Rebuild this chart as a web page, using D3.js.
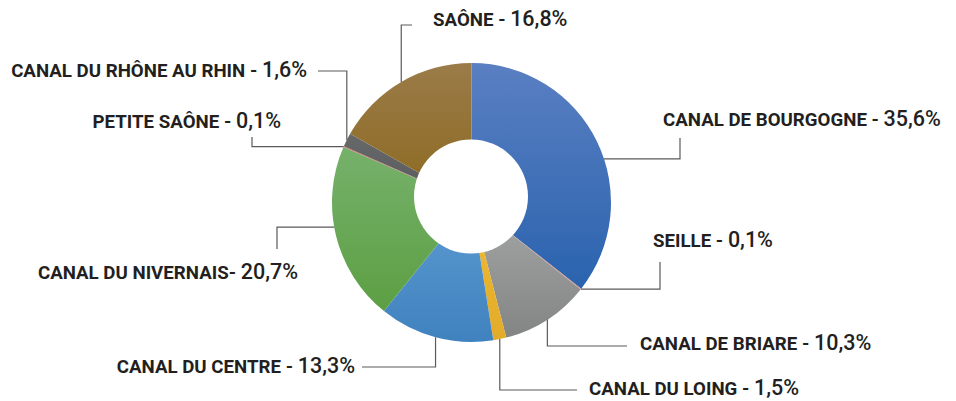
<!DOCTYPE html>
<html>
<head>
<meta charset="utf-8">
<script src="https://cdn.jsdelivr.net/npm/d3@7"></script>
<style>
  body { margin: 0; background: #fff; }
  text { font-family: Roboto, "Noto Sans", sans-serif; fill: #231f20; }
</style>
</head>
<body>
<div id="chart"></div>
<script>
// share of traffic per waterway
const names = ["CANAL DE BOURGOGNE", "SEILLE", "CANAL DE BRIARE", "CANAL DU LOING",
               "CANAL DU CENTRE", "CANAL DU NIVERNAIS", "PETITE SAÔNE",
               "CANAL DU RHÔNE AU RHIN", "SAÔNE"];
const values = [35.6, 0.1, 10.3, 1.5, 13.3, 20.7, 0.1, 1.6, 16.8];
const seps = [" - ", " - ", " - ", " - ", " - ", "- ", " - ", " - ", " - "];
const colorTop = ["#5a7fc2", "#e08a78", "#a6a7a7", "#f2bc30", "#5e9bd1", "#76b16b", "#e06a6a", "#66686a", "#9b7b48"];
const colorBot = ["#2a63ae", "#e08a78", "#838585", "#e2ab2a", "#3f82bf", "#5c9f43", "#e06a6a", "#58595b", "#8c6920"];

// label placement: x, y (baseline), anchor, leader mode, elbow, end, position inside slice
const labelX = [663, 653, 640, 589, 355, 298, 281, 307, 433];
const labelY = [126, 247, 350, 395, 373, 279, 128, 77, 26];
const anchor = ["start", "start", "start", "start", "end", "end", "end", "end", "start"];
const leaderMode = ["h", "h", "v", "v", "v", "h", "h", "v", "v"];
const leaderElbow = [680, 660, 346, 390, 367, 277, 252, 71, 25];
const leaderEnd = [138, 262, 627, 577, 362, 249, 137, 318, 412];
const leaderPos = [0.56, 0.5, 0.5, 0.5, 0.5, 0.55, 0.5, 0.5, 0.5];

const width = 956, height = 401;
const cx = 471.5, cy = 202.5, outerR = 139.5;
const holeX = 471, holeY = 196.5, holeR = 57;

var svg = d3.select("#chart").append("svg")
    .attr("width", width)
    .attr("height", height);

var defs = svg.append("defs");
names.forEach(function(n, i) {
    var g = defs.append("linearGradient")
        .attr("id", "grad" + i)
        .attr("x1", 0).attr("y1", 0).attr("x2", 0).attr("y2", 1);
    g.append("stop").attr("offset", "0%").attr("stop-color", colorTop[i]);
    g.append("stop").attr("offset", "100%").attr("stop-color", colorBot[i]);
});

var pie = d3.pie().sort(null).value(d => d);
var arcs = pie(values);
var arc = d3.arc().innerRadius(0).outerRadius(outerR);

var g = svg.append("g").attr("transform", "translate(" + cx + "," + cy + ")");
g.selectAll("path")
    .data(arcs)
    .enter()
    .append("path")
    .attr("d", arc)
    .attr("fill", (d, i) => "url(#grad" + i + ")");

// hole
svg.append("circle")
    .attr("cx", holeX)
    .attr("cy", holeY)
    .attr("r", holeR)
    .attr("fill", "#fff");

// leader lines
arcs.forEach(function(d, i) {
    var a = d.startAngle + (d.endAngle - d.startAngle) * leaderPos[i];
    var px = cx + outerR * Math.sin(a);
    var py = cy - outerR * Math.cos(a);
    var pts;
    if (leaderMode[i] == "h") {
        pts = [[px, py], [leaderElbow[i], py], [leaderElbow[i], leaderEnd[i]]];
    } else {
        pts = [[px, py], [px, leaderElbow[i]], [leaderEnd[i], leaderElbow[i]]];
    }
    svg.append("path")
        .attr("d", d3.line()(pts))
        .attr("fill", "none")
        .attr("stroke", "#5a5a5a")
        .attr("stroke-width", 1.2);
});

// labels
var fmt = d3.format(".1f");
names.forEach(function(n, i) {
    var t = svg.append("text")
        .attr("x", labelX[i])
        .attr("y", labelY[i])
        .attr("text-anchor", anchor[i]);
    t.append("tspan")
        .attr("font-size", 18.7)
        .attr("font-weight", 700)
        .text(n + seps[i]);
    t.append("tspan")
        .attr("font-size", 21.5)
        .attr("font-weight", 500)
        .text(fmt(values[i]).replace(".", ",") + "%");
});
</script>
</body>
</html>
